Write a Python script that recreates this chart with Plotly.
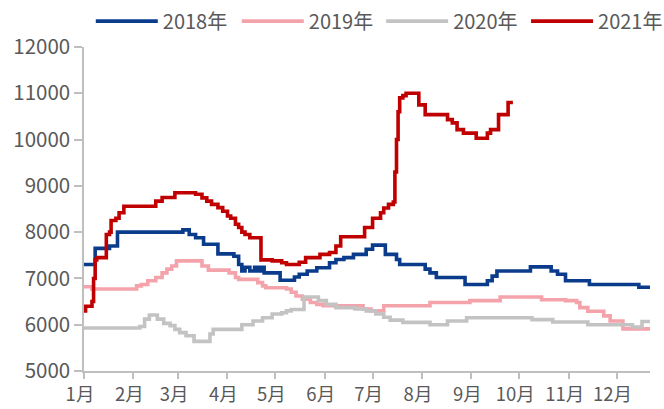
import pandas as pd
import plotly.graph_objects as go

YEAR = "2021"

# 2018年
d2018 = ["01-01", "01-08", "01-17", "01-22", "03-04", "03-08", "03-12", "03-17", "03-26",
         "04-05", "04-08", "04-10", "04-12", "04-15", "04-18", "04-20", "04-22", "04-24",
         "05-04", "05-13", "05-16", "05-21", "05-27", "06-04", "06-08", "06-13", "06-19",
         "06-27", "07-01", "07-09", "07-16", "07-18", "08-03", "08-06", "08-10", "08-28",
         "09-11", "09-14", "09-17", "10-08", "10-21", "10-25", "10-30", "11-14", "12-15",
         "12-22"]
v2018 = [7300, 7650, 7700, 8000, 8050, 7950, 7880, 7740, 7530,
         7480, 7300, 7160, 7240, 7160, 7240, 7160, 7240, 7120,
         6960, 7030, 7090, 7160, 7230, 7340, 7410, 7450, 7520,
         7630, 7720, 7520, 7410, 7300, 7200, 7120, 7020, 6870,
         6950, 7050, 7160, 7250, 7160, 7090, 6950, 6870, 6810,
         6810]

# 2019年
d2019 = ["01-01", "01-06", "02-03", "02-06", "02-10", "02-15", "02-19", "02-22", "02-25",
         "02-28", "03-16", "03-20", "04-02", "04-06", "04-08", "04-20", "04-23", "04-25",
         "05-08", "05-11", "05-14", "05-18", "05-23", "05-27", "05-31", "06-25", "06-30",
         "07-08", "08-06", "08-31", "09-19", "10-15", "10-30", "11-06", "11-08", "11-13",
         "11-23", "11-27", "12-05", "12-22"]
v2019 = [6820, 6770, 6840, 6870, 6950, 7020, 7120, 7200, 7270,
         7380, 7270, 7180, 7120, 7020, 6980, 6910, 6840, 6800,
         6770, 6700, 6620, 6550, 6480, 6440, 6410, 6340, 6300,
         6410, 6480, 6520, 6600, 6540, 6520, 6480, 6370, 6290,
         6190, 6080, 5910, 5910]

# 2020年
d2020 = ["01-01", "02-05", "02-08", "02-11", "02-16", "02-20", "02-24", "02-27", "03-02",
         "03-06", "03-11", "03-21", "03-23", "04-10", "04-17", "04-23", "04-29", "05-05",
         "05-08", "05-11", "05-19", "05-28", "06-02", "06-08", "06-20", "06-27", "07-03",
         "07-08", "07-12", "07-20", "08-06", "08-17", "08-29", "10-09", "10-22", "11-13",
         "12-11", "12-17", "12-22"]
v2020 = [5930, 5960, 6120, 6210, 6120, 6030, 5980, 5900, 5830,
         5760, 5640, 5800, 5900, 6000, 6080, 6150, 6230, 6260,
         6300, 6330, 6600, 6520, 6440, 6370, 6340, 6300, 6230,
         6160, 6100, 6050, 6000, 6080, 6150, 6110, 6060, 6000,
         5950, 6070, 6070]

# 2021年
d2021 = ["01-01", "01-02", "01-06", "01-07", "01-08", "01-09", "01-15", "01-17", "01-18",
         "01-21", "01-23", "01-26", "02-15", "02-19", "02-27", "03-12", "03-16", "03-19",
         "03-22", "03-26", "03-29", "04-01", "04-03", "04-06", "04-08", "04-10", "04-12",
         "04-15", "04-22", "04-29", "05-05", "05-08", "05-16", "05-20", "05-29", "06-04",
         "06-08", "06-11", "06-26", "07-01", "07-06", "07-08", "07-11", "07-14", "07-15",
         "07-16", "07-17", "07-18", "07-20", "07-22", "07-30", "08-03", "08-17", "08-20",
         "08-23", "08-27", "09-04", "09-11", "09-13", "09-18", "09-24", "09-27"]
v2021 = [6300, 6400, 6500, 7000, 7400, 7450, 7950, 8000, 8250,
         8300, 8420, 8560, 8670, 8750, 8850, 8820, 8740, 8670,
         8600, 8530, 8450, 8350, 8300, 8170, 8100, 8000, 7950,
         7880, 7400, 7380, 7340, 7300, 7350, 7450, 7520, 7560,
         7700, 7900, 8100, 8300, 8420, 8520, 8600, 8650, 9300,
         10000, 10600, 10900, 10950, 11000, 10750, 10540, 10430, 10360,
         10215, 10140, 10030, 10140, 10215, 10540, 10800, 10800]

month_ticks = [f"{YEAR}-{m:02d}-01" for m in range(1, 13)]
month_labels = [f"{m}月" for m in range(1, 13)]

series = [
    ("2018年", d2018, v2018, "#0B3C8C"),
    ("2019年", d2019, v2019, "#F4A3AB"),
    ("2020年", d2020, v2020, "#C3C3C3"),
    ("2021年", d2021, v2021, "#C00000"),
]

FONT = "Noto Sans CJK SC"
TXT = "#595959"
AX = "#BFBFBF"

# one single-entry legend per series, spread across the top
legend_ids = ["legend", "legend2", "legend3", "legend4"]
legend_x = [0.012, 0.270, 0.525, 0.781]

fig = go.Figure()
for (name, dates, vals, color), lid in zip(series, legend_ids):
    fig.add_trace(go.Scatter(
        x=pd.to_datetime([f"{YEAR}-{d}" for d in dates]),
        y=vals,
        name=name,
        mode="lines",
        line=dict(color=color, width=3.6, shape="hv"),
        legend=lid,
    ))

legend_style = dict(
    orientation="h",
    xanchor="left",
    y=1.08, yanchor="middle",
    font=dict(family=FONT, size=20, color=TXT),
    itemwidth=62,
    bgcolor="rgba(0,0,0,0)",
)
legends = {lid: dict(legend_style, x=lx) for lid, lx in zip(legend_ids, legend_x)}

fig.update_layout(
    width=664,
    height=409,
    margin=dict(l=84, r=14, t=47, b=38, autoexpand=False),
    paper_bgcolor="white",
    plot_bgcolor="white",
    font=dict(family=FONT, size=20, color=TXT),
    showlegend=True,
    **legends,
    xaxis=dict(
        type="date",
        range=[f"{YEAR}-01-01", f"{YEAR}-12-22"],
        tickvals=month_ticks,
        ticktext=month_labels,
        showgrid=False,
        zeroline=False,
        showline=True,
        linecolor=AX,
        linewidth=1.5,
        ticks="outside",
        ticklen=6,
        tickcolor=AX,
        tickwidth=1.5,
        ticklabelshift=-4,
        tickfont=dict(family=FONT, size=18.5, color=TXT),
    ),
    yaxis=dict(
        range=[5000, 12000],
        dtick=1000,
        tickformat="d",
        showgrid=False,
        zeroline=False,
        showline=True,
        linecolor=AX,
        linewidth=1.5,
        ticks="outside",
        ticklen=8,
        tickcolor=AX,
        tickwidth=1.5,
        tickfont=dict(family=FONT, size=20.5, color=TXT),
    ),
)

fig.write_html("out.html")
